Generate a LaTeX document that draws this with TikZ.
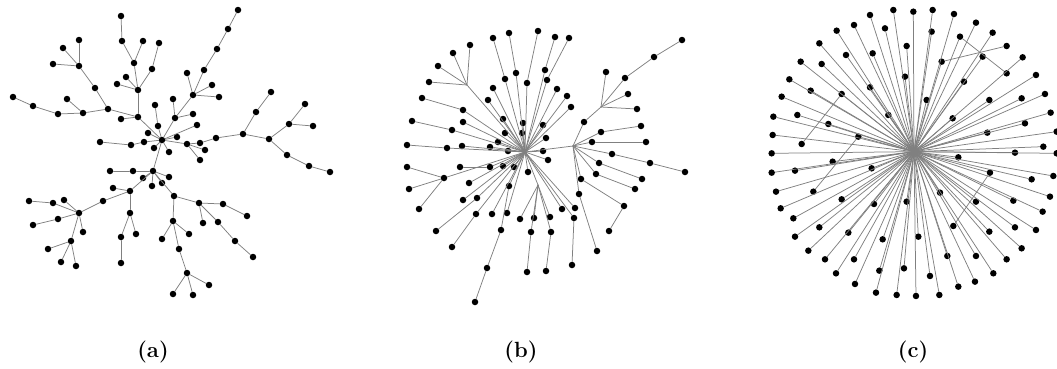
\documentclass[tikz,border=0pt]{standalone}
\usepackage{fontspec}
\begin{document}
\begin{tikzpicture}[x=1pt, y=-1pt, line join=round, line cap=round,
    dot/.style={circle, fill=black, inner sep=0pt, minimum size=6.5pt},
    edge/.style={draw=black!50, line width=.75pt},
    lbl/.style={font=\fontsize{22}{26}\selectfont\bfseries}]
  \useasboundingbox (0,0) rectangle (1057,368);
  % (a)
  \foreach \n/\x/\y in {a1/121/16, a2/122/41, a3/143/41, a4/159/43, a5/134/63, a6/152/69,
      a7/126/77, a8/117/84, a9/138/90, a10/79/40, a11/63/48, a12/53/64, a13/79/66, a14/95/88,
      a15/108/109, a16/13/97, a17/33/106, a18/58/114, a19/83/113, a20/67/99, a21/138/117,
      a22/121/119, a23/238/10, a24/228/29, a25/217/49, a26/204/70, a27/187/73, a28/212/85,
      a29/193/95, a30/219/97, a31/173/99, a32/175/118, a33/155/105, a34/158/126, a35/193/114,
      a36/197/125, a37/162/140, a38/148/133, a39/177/137, a40/187/144, a41/200/143, a42/216/138,
      a43/205/150, a44/200/160, a45/243/134, a46/256/112, a47/271/92, a48/269/139, a49/289/124,
      a50/305/104, a51/313/126, a52/287/155, a53/309/166, a54/330/172, a55/100/142, a56/131/145,
      a57/144/142, a58/154/148, a59/169/152, a60/153/171, a61/110/171, a62/133/171, a63/143/178,
      a64/152/186, a65/162/183, a66/169/177, a67/113/188, a68/130/191, a69/103/201, a70/79/213,
      a71/64/200, a72/53/203, a73/29/201, a74/58/219, a75/33/225, a76/83/232, a77/71/241,
      a78/48/249, a79/61/262, a80/76/266, a81/130/213, a82/121/237, a83/136/234, a84/121/263,
      a85/174/196, a86/199/203, a87/223/204, a88/247/216, a89/203/223, a90/218/222, a91/235/241,
      a92/253/257, a93/173/221, a94/189/234, a95/162/239, a96/179/249, a97/187/273, a98/209/285,
      a99/173/294, a100/193/295}
    \node[dot] (\n) at (\x,\y) {};
  \foreach \u/\v in {a1/a2, a2/a5, a3/a5, a5/a9, a4/a6, a6/a9, a7/a9, a8/a9, a9/a21, a10/a13,
      a11/a13, a12/a13, a13/a14, a14/a15, a16/a17, a17/a18, a18/a19, a19/a15, a20/a19, a15/a21,
      a22/a21, a21/a37, a23/a24, a24/a25, a25/a26, a26/a29, a27/a29, a28/a29, a30/a29, a29/a32,
      a31/a32, a35/a32, a32/a37, a33/a34, a34/a37, a36/a37, a38/a37, a39/a37, a37/a40, a40/a41,
      a41/a42, a42/a45, a43/a40, a44/a40, a45/a46, a46/a47, a45/a48, a48/a49, a49/a50, a49/a51,
      a48/a52, a52/a53, a53/a54, a55/a56, a56/a57, a57/a37, a58/a37, a59/a37, a37/a60, a61/a62,
      a62/a60, a63/a60, a64/a60, a65/a60, a66/a60, a60/a68, a67/a68, a68/a69, a69/a70, a73/a72,
      a72/a70, a71/a70, a75/a74, a74/a70, a76/a70, a77/a70, a78/a77, a79/a77, a80/a77, a68/a81,
      a81/a82, a82/a84, a81/a83, a60/a85, a85/a86, a86/a87, a87/a88, a86/a89, a86/a90, a90/a91,
      a91/a92, a85/a93, a93/a94, a93/a95, a93/a96, a96/a97, a97/a98, a97/a99, a97/a100}
    \draw[edge] (\u) -- (\v);
  \node[lbl] (la) at (153,352) {(a)};
  % (b)
  \coordinate (cb) at (525,152);
  \coordinate (s1) at (467,85);
  \coordinate (s3) at (573,146);
  \coordinate (s4) at (601,107);
  \coordinate (s6) at (538,185);
  \foreach \n/\x/\y in {b1/493/38, b2/509/33, b3/538/31, b4/555/37, b5/569/38, b6/470/45,
      b7/453/53, b8/438/66, b9/429/82, b10/516/73, b11/545/70, b12/505/79, b13/527/83, b14/547/80,
      b15/493/88, b16/557/89, b17/567/96, b18/571/107, b19/422/98, b20/488/100, b21/463/110,
      b22/412/121, b23/503/119, b24/523/123, b25/543/125, b26/463/122, b27/452/130, b28/505/133,
      b29/522/133, b30/546/138, b31/498/142, b32/407/145, b33/447/148, b34/462/146, b35/490/147,
      b36/508/151, b37/543/151, b38/548/160, b39/407/167, b40/460/167, b41/490/167, b42/503/166,
      b43/514/167, b44/528/172, b45/606/72, b46/625/78, b47/654/57, b48/682/40, b49/628/94,
      b50/637/109, b51/584/122, b52/601/132, b53/641/126, b54/592/142, b55/646/142, b56/612/154,
      b57/650/163, b58/685/172, b59/599/163, b60/642/179, b61/596/174, b62/635/189, b63/581/179,
      b64/624/206, b65/609/231, b66/579/194, b67/597/251, b68/562/209, b69/575/208, b70/574/218,
      b71/572/265, b72/409/189, b73/419/209, b74/469/183, b75/463/200, b76/477/198, b77/509/186,
      b78/476/214, b79/492/214, b80/507/213, b81/520/219, b82/534/218, b83/550/217, b84/436/231,
      b85/452/247, b86/501/230, b87/531/232, b88/551/232, b89/487/268, b90/475/302, b91/527/272,
      b92/546/271, b93/444/178}
    \node[dot] (\n) at (\x,\y) {};
  \foreach \u/\v in {s1/b6, s1/b7, s1/b8, s1/b9, cb/s1, cb/b12, b12/b1, cb/b10, b10/b2, cb/b13,
      b13/b3, cb/b11, b11/b4, cb/b14, b14/b5, cb/b15, cb/b16, cb/b17, cb/b18, cb/b20, cb/b23,
      cb/b24, cb/b25, cb/b28, cb/b29, cb/b30, cb/b31, cb/b36, cb/b37, cb/b38, cb/b42, cb/b43,
      cb/b44, cb/b35, cb/b41, b41/b40, cb/b21, b21/b19, cb/b26, cb/b27, b27/b22, cb/b34, cb/b33,
      b33/b32, cb/s3, s3/b51, b51/s4, s4/b45, s4/b46, b46/b47, b47/b48, s4/b49, s4/b50, s3/b52,
      b52/b53, s3/b54, b54/b55, s3/b56, b56/b57, b57/b58, s3/b59, b59/b60, s3/b61, b61/b62,
      s3/b63, b63/b64, b64/b65, s3/b66, b66/b67, cb/b68, cb/b69, cb/b70, b70/b71, b39/b93,
      b72/b93, b73/b93, b93/cb, cb/b74, cb/b75, cb/b76, b76/b84, cb/b78, b78/b85, cb/b79,
      cb/b77, b77/b86, b86/b89, b89/b90, cb/b80, cb/s6, s6/b81, s6/b82, s6/b83, s6/b87,
      b87/b91, s6/b88, b88/b92}
    \draw[edge] (\u) -- (\v);
  \node[lbl] (lb) at (521,352) {(b)};
  % (c)
  \begin{scope}[shift={(760,0)}, x=0.3333pt, y=-0.3333pt]
    \coordinate (cc) at (462,455);
    \foreach \x/\y [count=\i] in {330/45, 400/30, 460/35, 518/30, 582/42, 282/75, 375/85,
        648/68, 698/98, 515/95, 230/92, 178/130, 440/138, 258/165, 338/160, 668/170, 788/172,
        122/185, 185/192, 88/238, 435/230, 828/225, 612/245, 65/290, 152/272, 330/262, 500/300,
        688/300, 785/295, 855/282, 40/350, 112/345, 205/372, 385/345, 578/355, 795/370, 872/338,
        38/405, 682/398, 890/395, 850/440, 35/460, 218/485, 595/472, 765/458, 890/460, 35/518,
        105/512, 335/505, 815/538, 880/528, 48/575, 245/598, 342/612, 440/605, 540/578, 648/605,
        760/602, 870/590, 62/625, 100/655, 848/635, 105/710, 178/682, 265/698, 368/718, 475/710,
        688/695, 765/682, 828/690, 145/752, 195/778, 282/778, 562/768, 648/768, 740/778, 785/745,
        228/820, 358/812, 432/805, 510/828, 700/820, 285/852, 348/878, 410/885, 468/888, 538/885,
        595/860, 645/845}
      \node[dot] (c\i) at (\x,\y) {};
    \foreach \n/\x/\y in {cp1/545/185, cp2/600/110, cp3/245/282, cp4/295/410, cp5/690/518,
        ck1/740/138, ck2/740/220, ck3/125/432, ck4/160/575, ck5/580/678}
      \node[dot] (\n) at (\x,\y) {};
    \foreach \i in {1,...,89}
      \draw[edge] (cc) -- (c\i);
    \foreach \i in {1,...,5} {
      \draw[edge] (cc) -- (cp\i);
      \draw[edge] (cp\i) -- (ck\i);
    }
  \end{scope}
  \node[lbl] (lc) at (913,352) {(c)};
\end{tikzpicture}
\end{document}
